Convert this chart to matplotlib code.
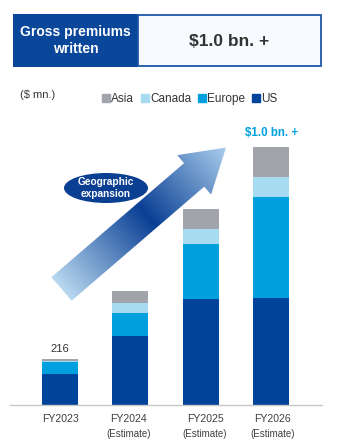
import numpy as np
import matplotlib
matplotlib.use('Agg')
import matplotlib.pyplot as plt
from matplotlib.patches import Rectangle, Ellipse, FancyArrow
from matplotlib.lines import Line2D
from matplotlib.colors import LinearSegmentedColormap
from matplotlib.transforms import blended_transform_factory

plt.rcParams['font.family'] = ['Liberation Sans', 'DejaVu Sans']

# data ($ mn.)
years = ['FY2023', 'FY2024', 'FY2025', 'FY2026']
sublabels = ['', '(Estimate)', '(Estimate)', '(Estimate)']
us = [145, 328, 503, 506]
europe = [57, 107, 260, 476]
canada = [5, 49, 69, 97]
asia = [9, 57, 95, 139]
total_label = '216'

series = [('US', us, '#00439a'), ('Europe', europe, '#00a0df'),
          ('Canada', canada, '#a7dbf1'), ('Asia', asia, '#a1a4ab')]

W, H = 338, 443
fig = plt.figure(figsize=(W / 100, H / 100), dpi=100)

# bar axes: pixel 10..322 horizontally, baseline at 405
ax = fig.add_axes([10 / W, (H - 405) / H, 312 / W, 265 / H])
x = np.arange(len(years))
bottom = np.zeros(len(years))
for name, vals, col in series:
    ax.bar(x, vals, width=0.51, bottom=bottom, color=col, label=name, zorder=2)
    bottom += np.array(vals)
ax.set_xlim(-0.71, 3.72)
ax.set_ylim(0, 1253)
for s in ['top', 'right', 'left']:
    ax.spines[s].set_visible(False)
ax.spines['bottom'].set_color('#c8c8c8')
ax.spines['bottom'].set_linewidth(1)
ax.set_xticks([])
ax.set_yticks([])

tr = blended_transform_factory(ax.transData, ax.transAxes)
label_dx = [0.0, -0.03, 0.06, 0.02]
for i, (yr, sub) in enumerate(zip(years, sublabels)):
    ax.text(x[i] + label_dx[i], -0.035, yr, transform=tr, ha='center', va='top',
            fontsize=7.6, color='#404040')
    if sub:
        ax.text(x[i] + label_dx[i], -0.09, sub, transform=tr, ha='center', va='top',
                fontsize=7, color='#404040')

ax.text(x[0], bottom[0] + 25, total_label, ha='center', va='bottom', fontsize=8, color='#333333')
ax.text(x[3], bottom[3] + 40, '$1.0 bn. +', ha='center', va='bottom', fontsize=8.3,
        fontweight='bold', color='#00a0e0')

# legend
handles = [Line2D([], [], marker='s', linestyle='none', markersize=5.5, color=c)
           for _, _, c in series[::-1]]
labels = [n for n, _, _ in series[::-1]]
fig.legend(handles, labels, ncol=4, loc='center', bbox_to_anchor=(190 / W, 1 - 99 / H),
           frameon=False, fontsize=8.5, handlelength=0.6, handletextpad=0.15,
           columnspacing=0.6, labelcolor='#333333')

# overlay in pixel coordinates for decorations
ov = fig.add_axes([0, 0, 1, 1], zorder=3)
ov.set_xlim(0, W)
ov.set_ylim(H, 0)
ov.axis('off')
ov.patch.set_alpha(0)

ov.add_patch(Rectangle((13, 14), 125, 53, facecolor='#0a479b', edgecolor='none'))
ov.add_patch(Rectangle((138, 14.7), 183, 51.5, facecolor='#f7fafe', edgecolor='#1f56a8', lw=1.3))
ov.text(75.5, 40.5, 'Gross premiums\nwritten', ha='center', va='center', color='white',
        fontsize=10, fontweight='bold', linespacing=1.25)
ov.text(229.5, 41, '$1.0 bn. +', ha='center', va='center', color='#333333',
        fontsize=12.5, fontweight='bold')
ov.text(20, 95, '($ mn.)', ha='left', va='center', fontsize=8, color='#333333')

# gradient arrow
tail = np.array([61.5, 289.0])
tip = np.array([226.0, 147.5])
d = tip - tail
arrow = FancyArrow(tail[0], tail[1], d[0], d[1], width=31, head_width=52, head_length=42,
                   length_includes_head=True, facecolor='none', edgecolor='none')
ov.add_patch(arrow)
gx, gy = np.meshgrid(np.linspace(30, 250, 300), np.linspace(120, 320, 300))
u = d / np.hypot(*d)
t = ((gx - tail[0]) * u[0] + (gy - tail[1]) * u[1]) / np.hypot(*d)
cmap = LinearSegmentedColormap.from_list('arr', [(0, '#b8d8f0'), (0.52, '#0a3f94'), (1, '#a9cdec')])
im = ov.imshow(np.clip(t, 0, 1), cmap=cmap, vmin=0, vmax=1, extent=(30, 250, 320, 120),
               origin='upper', interpolation='bilinear', aspect='auto')
im.set_clip_path(arrow)
ov.set_xlim(0, W)
ov.set_ylim(H, 0)

ov.add_patch(Ellipse((106, 188), 84, 30, facecolor='#0b3f92', edgecolor='none'))
ov.text(106, 188, 'Geographic\nexpansion', ha='center', va='center', color='white',
        fontsize=7.3, fontweight='bold', linespacing=1.3)

fig.savefig('out.png', dpi=100)
